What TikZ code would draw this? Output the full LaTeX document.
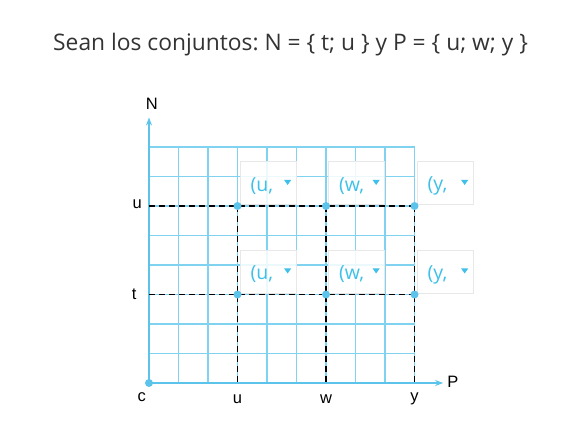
\documentclass[tikz,border=0pt]{standalone}
\usepackage{fontspec}
\setmainfont{Open Sans}
\newfontfamily\axisfont{Liberation Sans}
\usepackage{tikz}
\usetikzlibrary{arrows.meta, shapes.geometric}
\definecolor{gridblue}{HTML}{7FD2F0}
\definecolor{axisblue}{HTML}{5CC3EB}
\definecolor{pairblue}{HTML}{3EC0E9}
\definecolor{titlegray}{HTML}{333333}
\frenchspacing

\begin{document}
\begin{tikzpicture}[x=29.5pt, y=29.5pt,
	dot/.style={circle, fill=axisblue, inner sep=0pt, minimum size=8pt},
	lbl/.style={font=\axisfont\fontsize{16.5}{16.5}\selectfont, inner sep=0pt},
	pairbox/.style={draw=black!9, line width=0.8pt, fill=white, fill opacity=0.85, anchor=south west, minimum width=56pt, minimum height=43pt, inner sep=0pt},
	pairtext/.style={anchor=west, inner sep=0pt, text=pairblue, font=\fontsize{19.5}{19.5}\selectfont},
	droptip/.style={isosceles triangle, shape border rotate=270, isosceles triangle apex angle=70, fill=pairblue, inner sep=0pt, minimum width=6pt, minimum height=5pt},
	guide/.style={black, line width=1.3pt, dash pattern=on 6pt off 4pt}]
	\useasboundingbox (-5.051,-2.0) rectangle (14.644,12.983);
	\node[text=titlegray, font=\fontsize{22.8}{22.8}\selectfont] (title) at (4.8,11.46) {Sean los conjuntos: N = \{ t; u \} y P = \{ u; w; y \}};
	% grid and axes
	\draw[gridblue, line width=1.3pt, step=1] (0,0) grid (9,8);
	\coordinate (c) at (0,0);
	\coordinate (ntop) at (0,9);
	\coordinate (pend) at (9.97,0);
	\draw[axisblue, line width=2pt, -{Stealth[length=8pt, width=6pt]}] (c) -- (ntop);
	\draw[axisblue, line width=2pt, -{Stealth[length=8pt, width=6pt]}] (c) -- (pend);
	\node[lbl] (nlabel) at (0.1,9.46) {N};
	\node[lbl] (plabel) at (10.3,0.05) {P};
	\node[lbl] (clabel) at (-0.25,-0.47) {c};
	\node[lbl] (tlabel) at (-0.5,3) {t};
	\node[lbl] (ulabel) at (-0.4,6.05) {u};
	\node[lbl] (pu) at (3,-0.55) {u};
	\node[lbl] (pw) at (6,-0.55) {w};
	\node[lbl] (py) at (9,-0.55) {y};
	% dashed guides
	\coordinate (t0) at (0,3);
	\coordinate (u0) at (0,6);
	\coordinate (ty) at (9,3);
	\coordinate (uy) at (9,6);
	\coordinate (u00) at (3,0);
	\coordinate (w00) at (6,0);
	\coordinate (y00) at (9,0);
	\coordinate (uu) at (3,6);
	\coordinate (uw) at (6,6);
	\draw[guide] (t0) -- (ty);
	\draw[guide] (u0) -- (uy);
	\draw[guide] (uu) -- (u00);
	\draw[guide] (uw) -- (w00);
	\draw[guide] (uy) -- (y00);
	% pair boxes
	\foreach \px/\nm in {3/u,6/w,9/y}{
		\foreach \py/\rn in {3/t,6/u}{
			\node[pairbox] (box\nm\rn) at (\px+0.08,\py+0.03) {};
			\node[pairtext] (txt\nm\rn) at (\px+0.44,\py+0.68) {(\nm,};
			\node[droptip] (tip\nm\rn) at (\px+1.7,\py+0.82) {};
		}
	}
	% points
	\node[dot] (dc) at (0,0) {};
	\foreach \px/\nm in {3/u,6/w,9/y}{
		\node[dot] (d\nm t) at (\px,3) {};
		\node[dot] (d\nm u) at (\px,6) {};
	}
\end{tikzpicture}
\end{document}
